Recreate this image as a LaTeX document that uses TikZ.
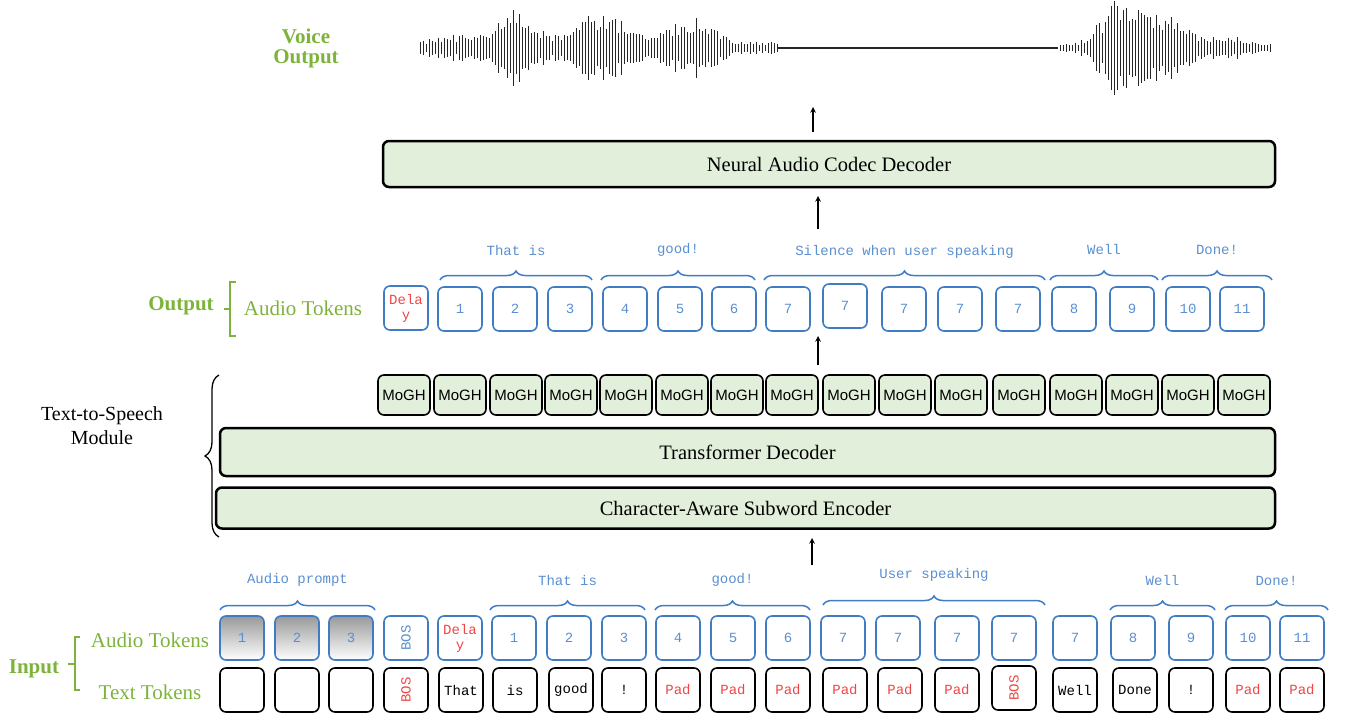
\documentclass[tikz,border=0pt]{standalone}
\usepackage{fontspec}
\setmainfont{Liberation Serif}
\newfontfamily\monof{Liberation Mono}
\newfontfamily\sansf{Liberation Sans}
\usetikzlibrary{decorations.pathreplacing}
\definecolor{gr}{HTML}{7DB33B}
\definecolor{bl}{HTML}{3F7CC4}
\definecolor{blt}{HTML}{5A8FD0}
\definecolor{fg}{HTML}{E2EFDA}
\definecolor{rd}{HTML}{F04545}
\begin{document}
\begin{tikzpicture}[x=1pt,y=-1pt,
 tok/.style={draw=bl,line width=1.6pt,rounded corners=6pt,minimum width=44pt,minimum height=44pt,inner sep=0pt,font=\monof\fontsize{14}{15}\selectfont,text=blt,align=center},
 ttok/.style={tok,draw=black,text=black},
 mog/.style={draw=black,line width=1.6pt,rounded corners=6pt,fill=fg,minimum width=52pt,minimum height=40pt,inner sep=0pt,font=\sansf\fontsize{15}{16}\selectfont},
 bigbox/.style={draw=black,line width=2.5pt,rounded corners=6pt,fill=fg,font=\fontsize{20.5}{22}\selectfont},
 brk/.style={draw=bl,line width=1.5pt,decorate,decoration={brace,amplitude=9pt}},
 blab/.style={font=\monof\fontsize{14}{15}\selectfont,text=blt},
 arr/.style={->,>=stealth,line width=1.5pt},
 glab/.style={text=gr,font=\fontsize{21}{23}\selectfont},
 glb/.style={text=gr,font=\bfseries\fontsize{21}{24}\selectfont,align=center}]
\useasboundingbox (0,0) rectangle (1362,718);
% waveform
\foreach \i in {0,...,119}{
 \pgfmathsetmacro\xx{420+3*\i}
 \pgfmathsetmacro\aa{(6+38*exp(-((\xx-517)/22)^2)+30*exp(-((\xx-600)/35)^2)+26*exp(-((\xx-690)/30)^2)+8*exp(-((\xx-460)/30)^2))*(0.45+0.55*rnd)}
 \draw[line width=1pt,black!85] (\xx,48-\aa) -- (\xx,48+\aa);
}
\draw[line width=1.5pt,black!85] (778,48) -- (1058,48);
\foreach \i in {0,...,70}{
 \pgfmathsetmacro\xx{1060+3*\i}
 \pgfmathsetmacro\aa{(4+42*exp(-((\xx-1118)/25)^2)+30*exp(-((\xx-1165)/30)^2)+10*exp(-((\xx-1230)/20)^2))*(0.45+0.55*rnd)}
 \draw[line width=1pt,black!85] (\xx,48-\aa) -- (\xx,48+\aa);
}
\node[glb] (vo) at (306,48) {Voice\\[-4pt]Output};
% codec
\node[bigbox,minimum width=892pt,minimum height=46pt] (codec) at (829,164) {Neural Audio Codec Decoder};
\coordinate (w1) at (813,132);
\coordinate (w2) at (813,107);
\draw[arr] (w1) -- (w2);
% output tokens
\node[glb] (outl) at (181,306) {Output};
\draw[gr,line width=1.5pt] (236,282) -- (230,282) -- (230,336) -- (236,336);
\draw[gr,line width=1.5pt] (230,309) -- (224,309);
\node[glab] (oat) at (303,308) {Audio Tokens};
\node[tok,draw=bl,text=rd] (o0) at (406,308) {Dela\\y};
\foreach \n/\x/\t in {1/460/1,2/515/2,3/570/3,4/625/4,5/680/5,6/734/6,7/788/7,9/904/7,10/960/7,11/1018/7,12/1074/8,13/1132/9,14/1188/10,15/1242/11}
 \node[tok] (o\n) at (\x,309) {\t};
\node[tok] (o8) at (845,306) {7};
\draw[brk] (440,280) -- (592,280) node[midway,above=20pt,blab] {That is};
\draw[brk] (601,280) -- (755,280) node[midway,above=20pt,blab] {good!};
\draw[brk] (764,280) -- (1045,280) node[midway,above=18pt,blab] {Silence when user speaking};
\draw[brk] (1050,280) -- (1158,280) node[midway,above=21pt,blab] {Well};
\draw[brk] (1162,280) -- (1272,280) node[midway,above=21pt,blab] {Done!};
\coordinate (w3) at (818,229);
\coordinate (w4) at (818,196);
\draw[arr] (w3) -- (w4);
% MoGH
\foreach \x [count=\k] in {404,460,516,571,626,682,737,792,849,905,961,1019,1076,1132,1188,1244}
 \node[mog] (m\k) at (\x,395) {MoGH};
\draw[arr] (818,365) -- (818,336);
% transformer / encoder
\node[bigbox,minimum width=1055pt,minimum height=48pt] (td) at (747.5,452) {Transformer Decoder};
\node[bigbox,minimum width=1059pt,minimum height=41pt] (enc) at (745.5,508) {Character-Aware Subword Encoder};
\draw[arr] (812,565) -- (812,538);
\draw[line width=1.3pt,decorate,decoration={brace,amplitude=14pt}] (219,537) -- (219,375);
\node[font=\fontsize{20}{24}\selectfont,align=center] (tts) at (102,426) {Text-to-Speech\\Module};
% input
\node[glb] (inl) at (34,669) {Input};
\draw[gr,line width=1.5pt] (80,637) -- (75,637) -- (75,690) -- (80,690);
\draw[gr,line width=1.5pt] (75,664) -- (68,664);
\node[glab] (iat) at (150,640) {Audio Tokens};
\node[glab] (itt) at (150,692) {Text Tokens};
\foreach \x/\t [count=\k] in {242/1,297/2,351/3}
 \node[tok,top color=black!40,bottom color=white] (a\k) at (\x,638) {\t};
\node[tok] (a4) at (406,638) {\rotatebox{90}{BOS}};
\node[tok,text=rd] (a5) at (460,638) {Dela\\y};
\foreach \x/\t [count=\k from 6] in {514/1,569/2,624/3,678/4,733/5,788/6,843/7,898/7,957/7,1014/7,1075/7,1133/8,1191/9,1248/10,1302/11}
 \node[tok] (a\k) at (\x,638) {\t};
\foreach \x/\t [count=\k] in {242/,297/,351/,461/That,515/is,571/good,624/!,1075/Well,1135/Done,1191/!}
 \node[ttok] (t\k) at (\x,690) {\t};
\node[ttok,text=rd] (tb1) at (406,690) {\rotatebox{90}{BOS}};
\node[ttok,text=rd] (tb2) at (1014,688) {\rotatebox{90}{BOS}};
\foreach \x [count=\k] in {678,733,788,845,900,957,1248,1302}
 \node[ttok,text=rd] (p\k) at (\x,690) {Pad};
\draw[brk] (220,610) -- (375,610) node[midway,above=20pt,blab] {Audio prompt};
\draw[brk] (490,610) -- (645,610) node[midway,above=20pt,blab] {That is};
\draw[brk] (655,610) -- (810,610) node[midway,above=20pt,blab] {good!};
\draw[brk] (823,605) -- (1045,605) node[midway,above=20pt,blab] {User speaking};
\draw[brk] (1110,610) -- (1215,610) node[midway,above=20pt,blab] {Well};
\draw[brk] (1225,610) -- (1328,610) node[midway,above=20pt,blab] {Done!};
\end{tikzpicture}
\end{document}
